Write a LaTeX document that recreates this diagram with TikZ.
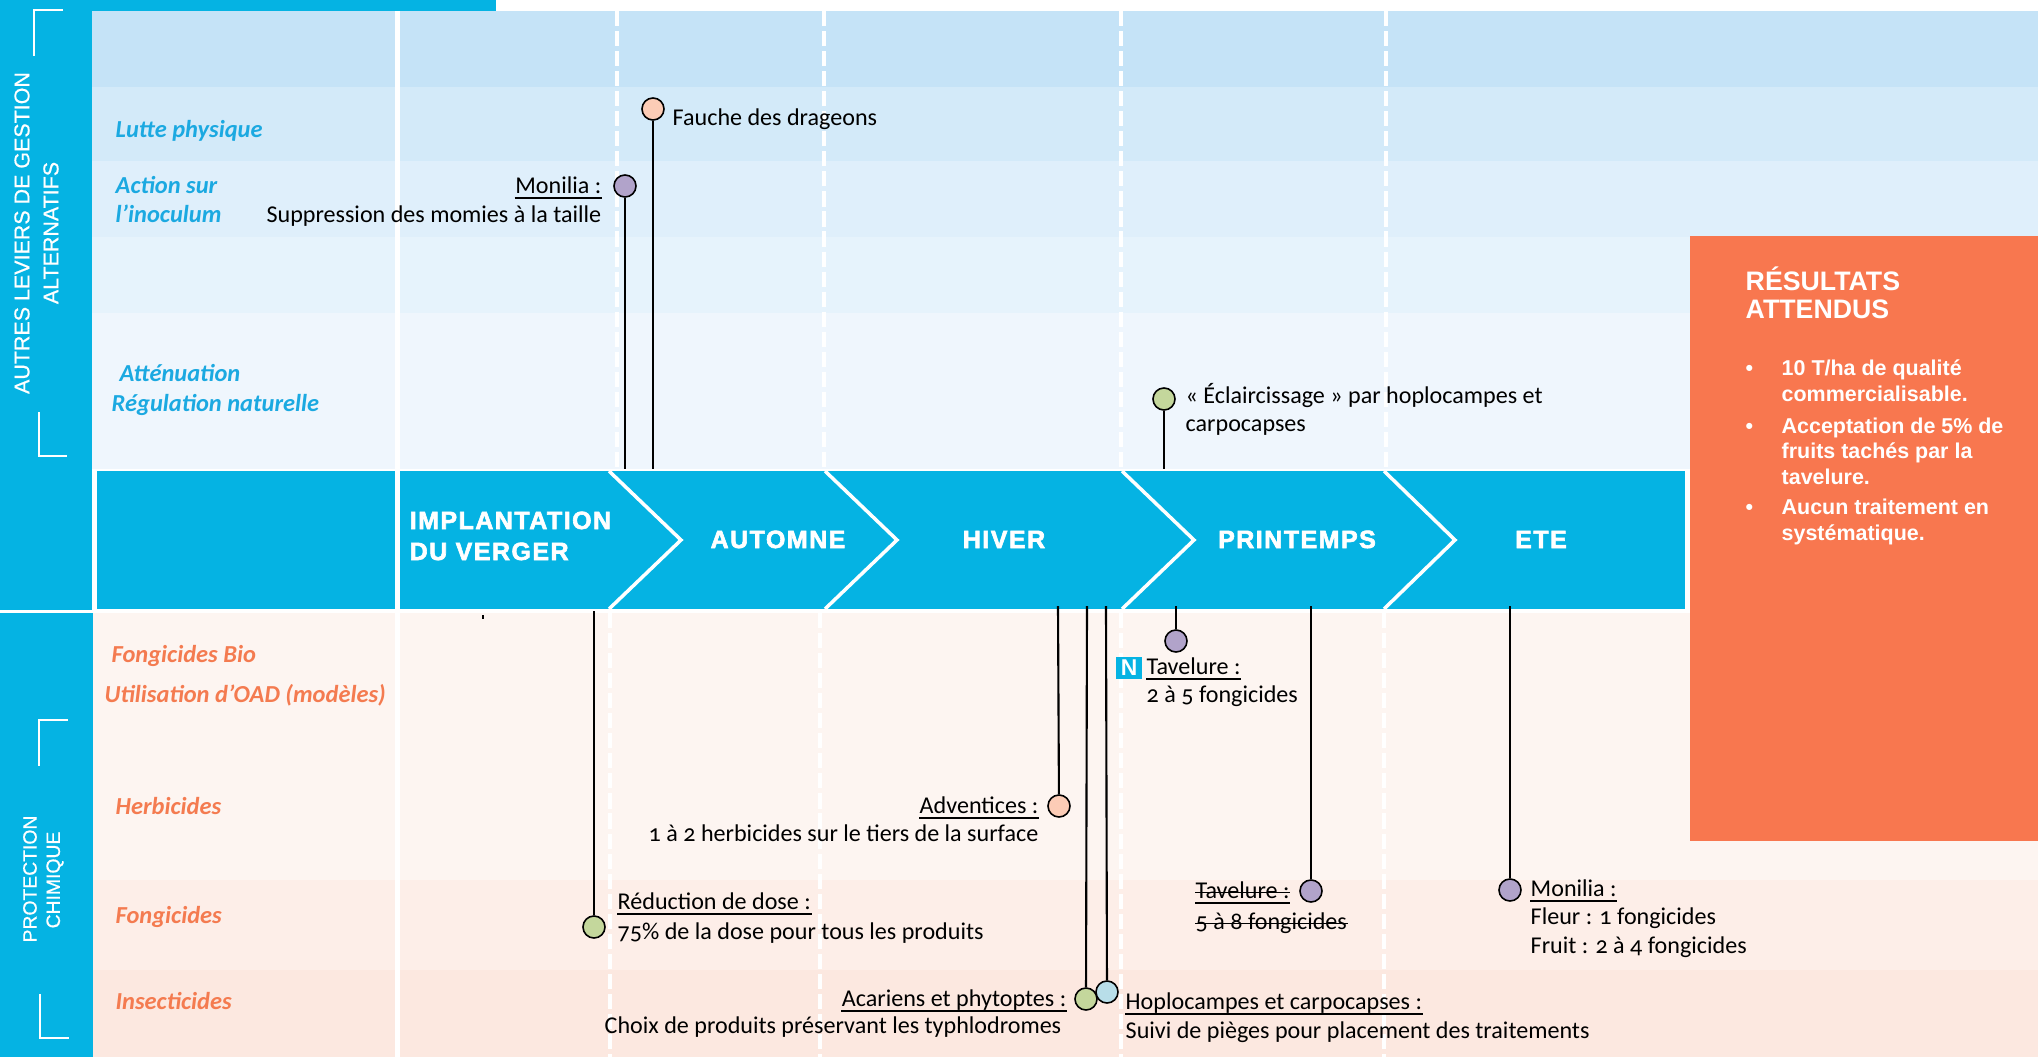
\documentclass[tikz,border=0pt]{standalone}
\usepackage{fontspec}
\setmainfont{Carlito}[Numbers=OldStyle]
\newfontfamily\headfont{Liberation Sans}[FakeBold=2.5, LetterSpace=6]
\newfontfamily\arialf{Liberation Sans}
\newfontfamily\sidef{Liberation Sans}[FakeBold=0.6]
\definecolor{cyanb}{HTML}{05B3E3}
\definecolor{lblue}{HTML}{1BA9E1}
\definecolor{salm}{HTML}{F47B50}
\definecolor{orbox}{HTML}{F8774F}
\definecolor{ua}{HTML}{C5E3F7}
\definecolor{ub}{HTML}{D3EAF9}
\definecolor{uc}{HTML}{DFEFFB}
\definecolor{ud}{HTML}{E6F3FC}
\definecolor{ue}{HTML}{EFF6FD}
\definecolor{la}{HTML}{FDF5F1}
\definecolor{lb}{HTML}{FDEEE8}
\definecolor{lc}{HTML}{FCE8E0}
\definecolor{pur}{HTML}{B1A3CA}
\definecolor{pea}{HTML}{FCCCB6}
\definecolor{grn}{HTML}{C4D79C}
\definecolor{lbl}{HTML}{B8DEE9}
\newcommand\bodyfs{\fontsize{6.85}{8.2}\selectfont}
\newcommand\labfs{\fontsize{6.95}{8.2}\selectfont\bfseries\itshape}
\newcommand\myul[1]{\draw[black, line width=0.4pt] ([yshift=-1.4pt]#1.base west) -- ([yshift=-1.4pt]#1.base east);}
\newcommand\mystk[1]{\draw[black, line width=0.4pt] ([yshift=1.6pt]#1.base west) -- ([yshift=1.6pt]#1.base east);}
\tikzset{
  txt/.style={inner sep=0pt, font=\bodyfs, text=black},
  lab/.style={inner sep=0pt, font=\labfs, text=lblue},
  slab/.style={inner sep=0pt, font=\labfs, text=salm},
  chev/.style={inner sep=0pt, font=\headfont\bfseries\fontsize{7.1}{8}\selectfont, text=white},
  res/.style={inner sep=0pt, font=\arialf\bfseries\fontsize{6.1}{7.3}\selectfont, text=white},
  rot/.style={inner sep=0pt, rotate=90, text=white},
  dot/.style={circle, draw=black, line width=0.45pt, minimum size=0.22cm, inner sep=0pt},
  conn/.style={draw=black, line width=0.6pt},
  wsolid/.style={draw=white, line width=1.25pt},
  wdash/.style={draw=white, line width=1pt, dash pattern=on 4.3pt off 1.4pt},
  wchev/.style={draw=white, line width=1pt},
  brk/.style={draw=white, line width=0.8pt}
}
\begin{document}
\begin{tikzpicture}[x=0.01cm,y=-0.01cm]
\useasboundingbox (0,0) rectangle (2038,1057);
\fill[white] (0,0) rectangle (2038,1057);
% top stripe and left column
\fill[cyanb] (0,0) rectangle (496,11);
\fill[cyanb] (0,0) rectangle (92,610);
\fill[cyanb] (0,613) rectangle (93,1057);
% upper bands
\fill[ua] (92,11) rectangle (2038,87);
\fill[ub] (92,87) rectangle (2038,161);
\fill[uc] (92,161) rectangle (2038,237);
\fill[ud] (92,237) rectangle (2038,313);
\fill[ue] (92,313) rectangle (2038,469);
% lower bands
\fill[la] (93,613) rectangle (2038,880);
\fill[lb] (93,880) rectangle (2038,970);
\fill[lc] (93,970) rectangle (2038,1057);
% chevron band
\fill[cyanb] (97,471) rectangle (1685,609);
% white column lines
\draw[wsolid] (397.5,11) -- (397.5,1057);
\draw[wdash] (617,11) -- (617,469);
\draw[wdash] (824,11) -- (824,469);
\draw[wdash] (1121,11) -- (1121,469);
\draw[wdash] (1386,11) -- (1386,469);
\draw[wdash] (610,613) -- (610,1057);
\draw[wdash] (820,613) -- (820,1057);
\draw[wdash] (1121,613) -- (1121,1057);
\draw[wdash] (1384,613) -- (1384,1057);
% chevrons
\draw[wchev] (609,471) -- (681,540) -- (609,609);
\draw[wchev] (825,471) -- (897,540) -- (825,609);
\draw[wchev] (1122,471) -- (1194,540) -- (1122,609);
\draw[wchev] (1384,471) -- (1455,540) -- (1384,609);
% orange box
\fill[orbox] (1690,236) rectangle (2038,841);
% brackets
\draw[brk] (63,10) -- (34,10) -- (34,56);
\draw[brk] (39,412) -- (39,456) -- (67,456);
\draw[brk] (68,720) -- (39,720) -- (39,766);
\draw[brk] (40,994) -- (40,1038) -- (69,1038);
% small tick
\draw[black, line width=0.5pt] (483,615) -- (483,619);
% rotated side titles
\node[rot, font=\sidef\fontsize{6.1}{7}\selectfont] (s1) at (22,233) {AUTRES LEVIERS DE GESTION};
\node[rot, font=\sidef\fontsize{6.1}{7}\selectfont] (s2) at (51,233) {ALTERNATIFS};
\node[rot, font=\sidef\fontsize{5.5}{7}\selectfont] (s3) at (30,879) {PROTECTION};
\node[rot, font=\sidef\fontsize{5.5}{7}\selectfont] (s4) at (55,880) {CHIMIQUE};
% row labels
\node[lab, anchor=base west] (r1) at (115,137) {Lutte physique};
\node[lab, anchor=base west] (r2) at (115,193) {Action sur};
\node[lab, anchor=base west] (r2b) at (115,222) {l’inoculum};
\node[lab, anchor=base west] (r3) at (119,381) {Atténuation};
\node[lab, anchor=base west] (r3b) at (111,411) {Régulation naturelle};
\node[slab, anchor=base west] (r4) at (111,662) {Fongicides Bio};
\node[slab, anchor=base west] (r4b) at (104,702) {Utilisation d’OAD (modèles)};
\node[slab, anchor=base west] (r5) at (115,814) {Herbicides};
\node[slab, anchor=base west] (r6) at (115,923) {Fongicides};
\node[slab, anchor=base west] (r7) at (115,1009) {Insecticides};
% chevron labels
\node[chev, anchor=base west] (h1) at (409,529) {IMPLANTATION};
\node[chev, anchor=base west] (h1b) at (409,560) {DU VERGER};
\node[chev, anchor=base] (h2) at (778,548) {AUTOMNE};
\node[chev, anchor=base] (h3) at (1004,548) {HIVER};
\node[chev, anchor=base] (h4) at (1297,548) {PRINTEMPS};
\node[chev, anchor=base] (h5) at (1541,548) {ETE};
% results box
\node[res, anchor=base west, font=\arialf\bfseries\fontsize{7.6}{8}\selectfont] (o1) at (1745,290) {RÉSULTATS};
\node[res, anchor=base west, font=\arialf\bfseries\fontsize{7.6}{8}\selectfont] (o2) at (1745,318) {ATTENDUS};
\node[res, anchor=base west] (b1) at (1745,375) {•};
\node[res, anchor=base west] (o3) at (1781,375) {10 T/ha de qualité};
\node[res, anchor=base west] (o3b) at (1781,401) {commercialisable.};
\node[res, anchor=base west] (b2) at (1745,433) {•};
\node[res, anchor=base west] (o4) at (1781,433) {Acceptation de 5\% de};
\node[res, anchor=base west] (o4b) at (1781,458) {fruits tachés par la};
\node[res, anchor=base west] (o4c) at (1781,484) {tavelure.};
\node[res, anchor=base west] (b3) at (1745,514) {•};
\node[res, anchor=base west] (o5) at (1781,514) {Aucun traitement en};
\node[res, anchor=base west] (o5b) at (1781,540) {systématique.};
% connector end points
\coordinate (t1) at (625,469);
\coordinate (t2) at (653,469);
\coordinate (t3) at (1164,469);
\coordinate (t4) at (594,611);
\coordinate (t5) at (1058,606);
\coordinate (t6) at (1087,606);
\coordinate (t7) at (1106,606);
\coordinate (t8) at (1176,606);
\coordinate (t9) at (1311,606);
\coordinate (t10) at (1510,606);
% circles
\node[dot, fill=pur] (c1) at (625,186) {};
\node[dot, fill=pea] (c2) at (653,109) {};
\node[dot, fill=grn] (c3) at (1164,399) {};
\node[dot, fill=grn] (c4) at (594,927) {};
\node[dot, fill=pea] (c5) at (1059,806) {};
\node[dot, fill=grn] (c6) at (1086,999) {};
\node[dot, fill=pur] (c8) at (1176,641) {};
\node[dot, fill=pur] (c9) at (1311,891) {};
\node[dot, fill=pur] (c10) at (1510,890) {};
\draw[conn] (c1) -- (t1);
\draw[conn] (c2) -- (t2);
\draw[conn] (c3) -- (t3);
\draw[conn] (c4) -- (t4);
\draw[conn] (c5) -- (t5);
\draw[conn] (c6) -- (t6);
\draw[conn] (c8) -- (t8);
\draw[conn] (c9) -- (t9);
\draw[conn] (c10) -- (t10);
\node[dot, fill=lbl] (c7) at (1107,992) {};
\draw[conn] (c7) -- (t7);
% texts
\node[txt, anchor=base west] (x1) at (672,125) {Fauche des drageons};
\node[txt, anchor=base east] (x2) at (602,193) {Monilia :};
\myul{x2}
\node[txt, anchor=base east] (x2b) at (602,222) {Suppression des momies à la taille};
\node[txt, anchor=base west] (x3) at (1185,403) {« Éclaircissage » par hoplocampes et};
\node[txt, anchor=base west] (x3b) at (1185,431) {carpocapses};
\node[fill=cyanb, text=white, inner sep=0pt, minimum width=0.26cm, minimum height=0.22cm, font=\arialf\bfseries\fontsize{6.5}{7}\selectfont] (nb) at (1129,668) {N};
\node[txt, anchor=base west] (x4) at (1146,674) {Tavelure :};
\myul{x4}
\node[txt, anchor=base west] (x4b) at (1146,702) {2 à 5 fongicides};
\node[txt, anchor=base east] (x5) at (1039,813) {Adventices :};
\myul{x5}
\node[txt, anchor=base east] (x5b) at (1039,841) {1 à 2 herbicides sur le tiers de la surface};
\node[txt, anchor=base west] (x6) at (617,909) {Réduction de dose :};
\myul{x6}
\node[txt, anchor=base west] (x6b) at (617,939) {75\% de la dose pour tous les produits};
\node[txt, anchor=base west] (x7) at (1195,898) {Tavelure :};
\myul{x7}
\mystk{x7}
\node[txt, anchor=base west] (x7b) at (1195,929) {5 à 8 fongicides};
\mystk{x7b}
\node[txt, anchor=base west] (x8) at (1530,896) {Monilia :};
\myul{x8}
\node[txt, anchor=base west] (x8b) at (1530,924) {Fleur : 1 fongicides};
\node[txt, anchor=base west] (x8c) at (1530,953) {Fruit : 2 à 4 fongicides};
\node[txt, anchor=base east] (x9) at (1067,1006) {Acariens et phytoptes :};
\myul{x9}
\node[txt, anchor=base west] (x9b) at (604,1033) {Choix de produits préservant les typhlodromes};
\node[txt, anchor=base west] (x10) at (1125,1009) {Hoplocampes et carpocapses :};
\myul{x10}
\node[txt, anchor=base west] (x10b) at (1125,1038) {Suivi de pièges pour placement des traitements};
\end{tikzpicture}
\end{document}
